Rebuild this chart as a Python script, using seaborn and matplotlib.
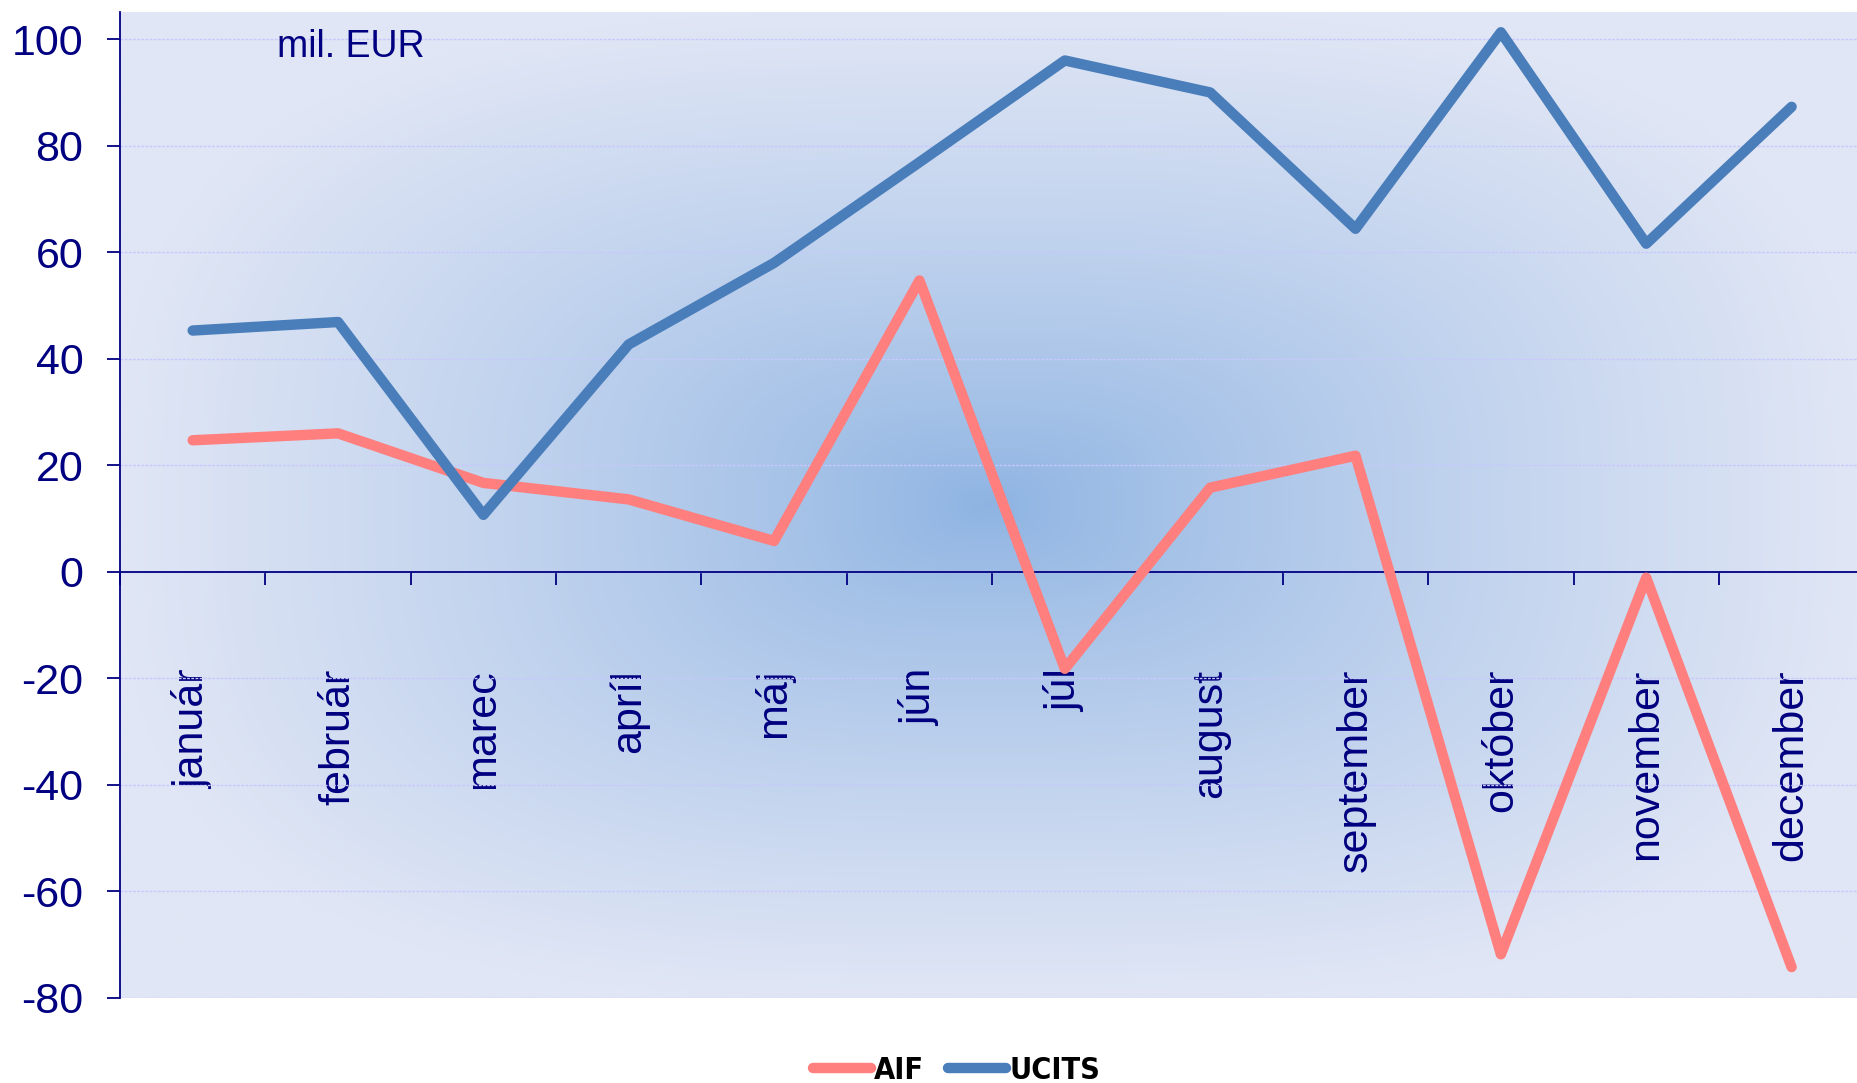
import numpy as np
import pandas as pd
import matplotlib
matplotlib.use("Agg")
import matplotlib.pyplot as plt
import seaborn as sns
from matplotlib.colors import to_rgb
from matplotlib import font_manager
from matplotlib.font_manager import FontProperties

months = ["január", "február", "marec", "apríl", "máj", "jún", "júl",
          "august", "september", "október", "november", "december"]
aif = [24.7, 26.0, 16.7, 13.6, 5.8, 54.7, -18.2, 15.8, 21.8, -71.8, -1.1, -74.2]
ucits = [45.3, 46.9, 10.7, 42.7, 58.0, 76.9, 96.0, 90.0, 64.4, 101.3, 61.6, 87.3]
series_names = ["AIF", "UCITS"]
yticks = [-80, -60, -40, -20, 0, 20, 40, 60, 80, 100]

sns.set_theme(style="white")
plt.rcParams["font.family"] = ["Liberation Sans", "DejaVu Sans"]

navy = "#000080"
colors = {"AIF": "#FF7F7F", "UCITS": "#4A7EBB"}

df = pd.DataFrame({
    "month": list(range(len(months))) * 2,
    "value": aif + ucits,
    "series": [series_names[0]] * len(aif) + [series_names[1]] * len(ucits),
})

fig = plt.figure(figsize=(18.57, 10.83), dpi=100)
ax = fig.add_axes([120 / 1857, 1 - 998 / 1083, 1 - 120 / 1857, (998 - 12) / 1083])

# background gradient (darker in the centre)
ny, nx = 300, 500
gx = np.linspace(-1, 1, nx)
gy = np.linspace(-1, 1, ny)
X, Y = np.meshgrid(gx, gy)
p = 3.0
d = (np.abs(X) ** p + np.abs(Y) ** p) ** (1 / p)
d = np.clip(d, 0, 1) ** 0.8
c_center = np.array(to_rgb("#8DB3E2"))
c_edge = np.array(to_rgb("#E0E6F5"))
img = c_center[None, None, :] + (c_edge - c_center)[None, None, :] * d[:, :, None]
ax.imshow(img, extent=[0, 1, 0, 1], transform=ax.transAxes, aspect="auto",
          zorder=0, interpolation="bilinear")

for yv in yticks:
    ax.axhline(yv, color="#C8C8FF", lw=1.0, ls=(0, (2, 1)), zorder=1)

sns.lineplot(data=df, x="month", y="value", hue="series", palette=colors,
             linewidth=7.5, ax=ax, legend=False, zorder=3,
             solid_capstyle="round", solid_joinstyle="round")

ax.set_xlabel("")
ax.set_ylabel("")

for s in ["top", "right"]:
    ax.spines[s].set_visible(False)
ax.spines["left"].set_color(navy)
ax.spines["left"].set_linewidth(1.3)
ax.spines["bottom"].set_position(("data", 0))
ax.spines["bottom"].set_color(navy)
ax.spines["bottom"].set_linewidth(1.3)
ax.spines["left"].set_zorder(2)
ax.spines["bottom"].set_zorder(2)

ax.set_yticks(yticks)
ax.set_yticklabels([str(v) for v in yticks])
ax.tick_params(axis="y", which="major", direction="out", length=9.4, width=1.3,
               color=navy, labelcolor=navy, labelsize=31, pad=17, left=True)

ax.set_xticks(range(len(months)))
ax.set_xticklabels(months, rotation=90, fontsize=31, color=navy)
ax.tick_params(axis="x", which="major", length=0, pad=70, bottom=True)
ax.set_xticks(np.arange(-0.5, 11.0, 1.0), minor=True)
ax.tick_params(axis="x", which="minor", direction="out", length=9.4, width=1.3,
               color=navy, bottom=True)

ax.set_xlim(-0.5, 11.45)
ax.set_ylim(-80, 105.1)

ax.text(0.0904, 0.964, "mil. EUR", transform=ax.transAxes, fontsize=27,
        color=navy, ha="left", va="center", zorder=4)

# legend font: a condensed bold face if one is installed
leg_prop = None
for f in font_manager.fontManager.ttflist:
    nm = f.name.lower()
    st = str(f.stretch).lower()
    wt = f.weight if isinstance(f.weight, int) else (700 if "bold" in str(f.weight) else 400)
    if ("narrow" in nm or "condensed" in nm or "condensed" in st) and wt >= 600 \
            and ("liberation" in nm or "dejavu" in nm or "roboto" in nm or "open sans" in nm):
        leg_prop = FontProperties(fname=f.fname, size=22)
        break
if leg_prop is None:
    leg_prop = FontProperties(family="Liberation Sans", weight="bold", size=20)

handles = [plt.Line2D([], [], color=colors[n], lw=7.5, solid_capstyle="round")
           for n in series_names]
leg = fig.legend(handles, series_names, loc="center", bbox_to_anchor=(0.515, 0.012),
                 ncol=2, frameon=False, handlelength=1.9, handletextpad=0.1,
                 columnspacing=0.8, prop=leg_prop)
for t in leg.get_texts():
    t.set_color("black")

fig.savefig("out.png", dpi=100)
